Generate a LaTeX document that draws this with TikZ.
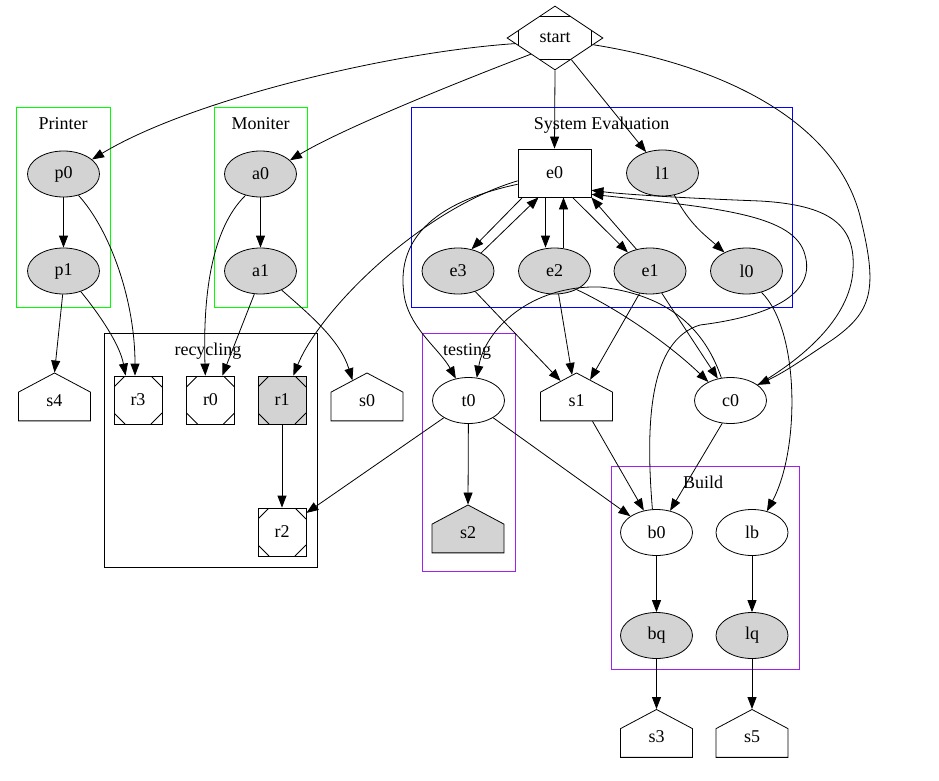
\documentclass[tikz,border=0pt]{standalone}
\usepackage{fontspec}
\setmainfont{Liberation Serif}
\usetikzlibrary{shapes.geometric,shapes.symbols,arrows.meta}

\definecolor{clgreen}{RGB}{0,255,0}
\definecolor{clblue}{RGB}{0,0,255}
\definecolor{clpurple}{RGB}{160,32,240}
\definecolor{nodegray}{RGB}{211,211,211}

\begin{document}
\begin{tikzpicture}[
        x=1pt, y=1pt,
        font=\fontsize{18}{21}\selectfont,
        line width=0.8pt,
        >={Triangle[length=12pt,width=9pt]},
        link/.style={->},
        filled/.style={fill=nodegray},
        oval/.style={ellipse, draw, minimum width=72pt, minimum height=46pt, inner sep=0pt},
        box/.style={rectangle, draw, minimum width=73pt, minimum height=48pt, inner sep=0pt},
        msq/.style={rectangle, draw, minimum size=48pt, inner sep=0pt,
            path picture={
                \draw ([xshift=11pt]path picture bounding box.north west) -- ([yshift=-11pt]path picture bounding box.north west);
                \draw ([xshift=-11pt]path picture bounding box.north east) -- ([yshift=-11pt]path picture bounding box.north east);
                \draw ([xshift=11pt]path picture bounding box.south west) -- ([yshift=11pt]path picture bounding box.south west);
                \draw ([xshift=-11pt]path picture bounding box.south east) -- ([yshift=11pt]path picture bounding box.south east);
            }},
        house/.style={shape=signal, signal to=north, signal from=nowhere, signal pointer angle=124,
            draw, minimum width=72pt, minimum height=33pt, inner sep=0pt, text depth=12pt},
        mdiamond/.style={diamond, draw, minimum width=96pt, minimum height=64pt, inner sep=0pt,
            path picture={
                \draw ([shift={(-15pt,-10pt)}]path picture bounding box.north) -- ([shift={(15pt,-10pt)}]path picture bounding box.north);
                \draw ([shift={(-15pt,10pt)}]path picture bounding box.south) -- ([shift={(15pt,10pt)}]path picture bounding box.south);
                \draw ([shift={(11pt,7.5pt)}]path picture bounding box.west) -- ([shift={(11pt,-7.5pt)}]path picture bounding box.west);
                \draw ([shift={(-11pt,7.5pt)}]path picture bounding box.east) -- ([shift={(-11pt,-7.5pt)}]path picture bounding box.east);
            }},
        clabel/.style={inner sep=0pt, anchor=base},
    ]
    \useasboundingbox (0,0) rectangle (939,-781);

    % clusters
    \draw[clgreen] (16,-107) rectangle (110,-307);
    \node[clabel] (lprinter) at (63,-129) {Printer};
    \draw[clgreen] (214,-107) rectangle (307,-307);
    \node[clabel] (lmoniter) at (260.5,-129) {Moniter};
    \draw[clblue] (411,-107) rectangle (792,-307);
    \node[clabel] (lsyseval) at (601.5,-129) {System Evaluation};
    \draw (104,-333) rectangle (317,-567);
    \node[clabel] (lrecycling) at (208,-355.5) {recycling};
    \draw[clpurple] (422,-333) rectangle (515,-571);
    \node[clabel] (ltesting) at (467,-355.5) {testing};
    \draw[clpurple] (611,-466) rectangle (799,-669);
    \node[clabel] (lbuild) at (703,-488) {Build};

    % nodes
    \node[mdiamond] (start) at (555,-38) {start};
    \node[oval,filled] (p0) at (63.5,-174) {p0};
    \node[oval,filled] (p1) at (63.5,-271) {p1};
    \node[oval,filled] (a0) at (260.5,-174) {a0};
    \node[oval,filled] (a1) at (260.5,-271) {a1};
    \node[box] (e0) at (554.5,-173) {e0};
    \node[oval,filled] (l1) at (662.5,-173) {l1};
    \node[oval,filled] (e3) at (458,-271) {e3};
    \node[oval,filled] (e2) at (554.5,-271) {e2};
    \node[oval,filled] (e1) at (650,-271) {e1};
    \node[oval,filled] (l0) at (746.5,-271) {l0};
    \node[house] (s4) at (54.5,-406.5) {s4};
    \node[msq] (r3) at (138,-400) {r3};
    \node[msq] (r0) at (210.5,-400) {r0};
    \node[msq,filled] (r1) at (282,-400) {r1};
    \node[msq] (r2) at (282,-532) {r2};
    \node[house] (s0) at (367,-406.5) {s0};
    \node[oval] (t0) at (468.5,-400.5) {t0};
    \node[house,filled] (s2) at (468,-538.5) {s2};
    \node[house] (s1) at (576.5,-406.5) {s1};
    \node[oval] (c0) at (730.5,-400.5) {c0};
    \node[oval] (b0) at (656.5,-532.5) {b0};
    \node[oval] (lb) at (752,-532.5) {lb};
    \node[oval,filled] (bq) at (656.5,-635.5) {bq};
    \node[oval,filled] (lq) at (752,-635.5) {lq};
    \node[house] (s3) at (656.5,-743) {s3};
    \node[house] (s5) at (752,-743) {s5};

    % from start
    \draw[link] (start.188) .. controls (390,-52) and (190,-100) .. (p0.27);
    \draw[link] (start.south west) .. controls (450,-85) and (340,-130) .. (a0.25);
    \draw[link] (start.south) -- (e0.north);
    \draw[link] (start.-53) -- (l1.128);
    \draw[link] (start.-10) .. controls (720,-65) and (838,-120) .. (861,-220)
        .. controls (878,-290) and (872,-312) .. (832,-340)
        .. controls (802,-360) and (785,-372) .. (c0.30);

    % printer and moniter
    \draw[link] (p0) -- (p1);
    \draw[link] (p0.-55) .. controls (110,-230) and (135,-300) .. (r3.97);
    \draw[link] (p1.-50) .. controls (100,-315) and (120,-345) .. (r3.117);
    \draw[link] (p1.-92) -- (s4.north);
    \draw[link] (a0) -- (a1);
    \draw[link] (a0.-125) .. controls (210,-230) and (203,-300) .. (r0.102);
    \draw[link] (a1.-105) -- (r0.64);
    \draw[link] (a1.-42) .. controls (310,-315) and (340,-340) .. (s0.119);

    % system evaluation
    \draw[link] ([xshift=-32pt]e0.south) -- (e3.58);
    \draw[link] (e3.38) -- ([xshift=-16pt]e0.south);
    \draw[link] ([xshift=-9pt]e0.south) -- ([xshift=-9pt]e2.north);
    \draw[link] ([xshift=9pt]e2.north) -- ([xshift=9pt]e0.south);
    \draw[link] ([xshift=18pt]e0.south) -- (e1.140);
    \draw[link] (e1.122) -- (e0.south east);
    \draw[link] (l1.-62) .. controls (690,-225) and (705,-235) .. (l0.140);
    \draw[link] (e0.192) .. controls (420,-210) and (320,-310) .. (r1.65);
    \draw[link] (e0.197) .. controls (420,-205) and (395,-250) .. (405,-300)
        .. controls (412,-330) and (440,-350) .. (t0.120);
    \draw[link] (e3.-50) -- (s1.122);
    \draw[link] (e2.-80) -- (s1.98);
    \draw[link] (e1.-115) -- (s1.63);
    \draw[link] (e2.-40) .. controls (620,-310) and (670,-345) .. (c0.140);
    \draw[link] (e1.-62) -- (c0.120);
    \draw[link] (l0.-55) .. controls (800,-330) and (800,-450) .. (lb.55);

    % back to e0
    \draw[link] (c0.30) .. controls (800,-360) and (850,-320) .. (853,-270)
        .. controls (856,-225) and (830,-205) .. (760,-201)
        .. controls (680,-198) and (620,-194) .. (e0.-25);
    \draw[link] (b0.100) .. controls (645,-420) and (650,-340) .. (700,-325)
        .. controls (780,-315) and (815,-290) .. (805,-255)
        .. controls (795,-215) and (720,-208) .. (e0.-30);

    % lower part
    \draw[link] (c0.112) .. controls (705,-330) and (670,-295) .. (600,-287)
        .. controls (530,-285) and (485,-330) .. (t0.70);
    \draw[link] (c0.-110) -- (b0.58);
    \draw[link] ([xshift=16pt]s1.south) -- (b0.120);
    \draw[link] (t0.-35) -- (b0.148);
    \draw[link] (t0.-145) -- (r2.38);
    \draw[link] (t0) -- (s2.north);
    \draw[link] (r1) -- (r2);
    \draw[link] (b0) -- (bq);
    \draw[link] (lb) -- (lq);
    \draw[link] (bq) -- (s3.north);
    \draw[link] (lq) -- (s5.north);
\end{tikzpicture}
\end{document}
